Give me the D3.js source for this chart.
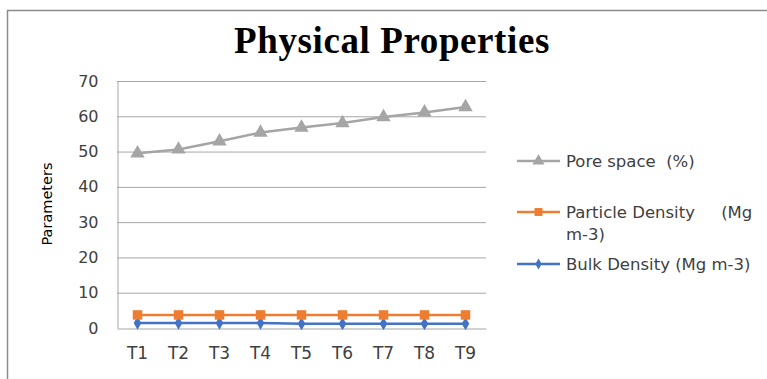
<!DOCTYPE html>
<html><head><meta charset="utf-8">
<script src="https://cdn.jsdelivr.net/npm/d3@7"></script>
<style>body{margin:0;background:#fff}svg{display:block}</style>
</head><body><svg id="c" width="767" height="379"></svg>
<script>
const categories = ["T1","T2","T3","T4","T5","T6","T7","T8","T9"];
const poreSpace = [49.5,50.6,52.9,55.4,56.8,58.1,59.8,61.1,62.6];
const particleDensity = [3.7,3.7,3.7,3.7,3.7,3.7,3.7,3.7,3.7];
const bulkDensity = [1.4,1.4,1.4,1.4,1.2,1.2,1.2,1.2,1.2];
const yTicks = [0,10,20,30,40,50,60,70];
const seriesNames = ["Pore space  (%)", "Particle Density     (Mg m-3)", "Bulk Density (Mg m-3)"];

const svg = d3.select("#c");
const font = "'DejaVu Sans', sans-serif";
// outer border
svg.append("path").attr("d","M7.5,379 V10.5 H767").attr("fill","none").attr("stroke","#8c8c8c").attr("stroke-width",1.5);

const L=117, R=486, T=81, B=328;
const x = d3.scaleBand().domain(categories).range([L,R]);
const y = d3.scaleLinear().domain([0,70]).range([B,T]);

// grid
svg.append("g").selectAll("line").data(yTicks.filter(d=>d>0)).join("line")
  .attr("x1",L).attr("x2",R).attr("y1",d=>y(d)+0.5).attr("y2",d=>y(d)+0.5)
  .attr("stroke","#a6a6a6").attr("stroke-width",1);
// axes
const ya = d3.axisLeft(y).tickValues(yTicks).tickSize(0).tickPadding(19);
const gy = svg.append("g").attr("transform",`translate(${L+0.5},0)`).call(ya);
gy.select(".domain").attr("stroke","#a6a6a6");
gy.selectAll("text").attr("font-family",font).attr("font-size",16).attr("fill","#404040");
const xa = d3.axisBottom(x).tickSize(0).tickPadding(18);
const gx = svg.append("g").attr("transform",`translate(0,${B+0.5})`).call(xa);
gx.select(".domain").attr("stroke","#a6a6a6");
gx.selectAll("text").attr("font-family",font).attr("font-size",17).attr("fill","#404040");

// title
svg.append("text").attr("x",392).attr("y",53).attr("text-anchor","middle")
  .attr("font-family","'Liberation Serif','Times New Roman',serif").attr("font-weight","bold")
  .attr("font-size",37).attr("letter-spacing",0.6).attr("fill","#000").text("Physical Properties");
// y title
svg.append("text").attr("transform","translate(52,204) rotate(-90)").attr("text-anchor","middle")
  .attr("font-family",font).attr("font-size",14.5).attr("fill","#000").text("Parameters");

const cx = d => x(d)+x.bandwidth()/2;
const series = [
  {vals:poreSpace,color:"#a5a5a5",sym:d3.symbolTriangle,size:90},
  {vals:particleDensity,color:"#ed7d31",sym:d3.symbolSquare,size:90},
  {vals:bulkDensity,color:"#4472c4",sym:d3.symbolDiamond,size:50}
];
const line = d3.line();
series.slice().reverse().forEach(s=>{
  const pts = categories.map((c,i)=>[cx(c),y(s.vals[i])]);
  svg.append("path").attr("d",line(pts)).attr("fill","none").attr("stroke",s.color).attr("stroke-width",2.5);
  svg.append("g").selectAll("path").data(pts).join("path")
    .attr("transform",d=>`translate(${d[0]},${d[1]})`)
    .attr("d",d3.symbol(s.sym,s.size)).attr("fill",s.color);
});

// legend
const legY = [161,212,264];
series.forEach((s,i)=>{
  const g = svg.append("g").attr("transform",`translate(517,${legY[i]})`);
  g.append("line").attr("x1",0).attr("x2",43).attr("stroke",s.color).attr("stroke-width",2.5);
  g.append("path").attr("transform","translate(21.5,0)").attr("d",d3.symbol(s.sym,s.size*0.7)).attr("fill",s.color);
});
const legText = [["Pore space  (%)"],["Particle Density     (Mg","m-3)"],["Bulk Density (Mg m-3)"]];
legText.forEach((lines,i)=>{
  const t = svg.append("text").attr("x",566).attr("y",legY[i]+6).attr("font-family",font)
    .attr("font-size",16.5).attr("fill","#404040").attr("xml:space","preserve");
  lines.forEach((ln,j)=>t.append("tspan").attr("x",566).attr("dy",j?22:0).text(ln));
});
</script></body></html>
